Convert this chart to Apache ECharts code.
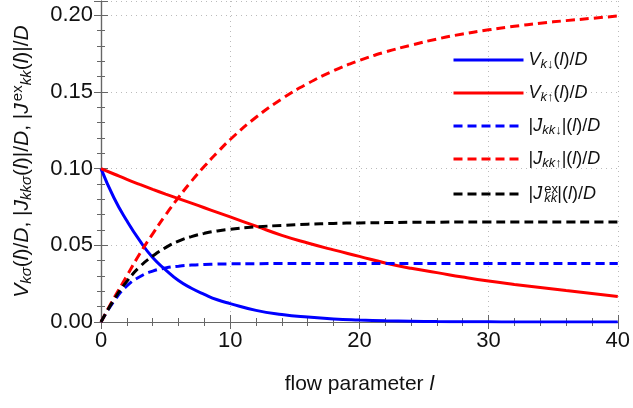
<!DOCTYPE html>
<html>
<head>
<meta charset="utf-8">
<script src="https://cdn.jsdelivr.net/npm/echarts@6/dist/echarts.min.js"></script>
<style>
  html, body { margin: 0; padding: 0; background: #fff; }
  #chart { width: 633px; height: 408px; }
</style>
</head>
<body>
<div id="chart"></div>
<script>
  // flow parameter l
  const flowL = [0, 1, 2, 3, 4, 5, 6, 7, 8, 9, 10, 12, 14, 16, 18, 20, 22, 24, 26, 28, 30, 32, 34, 36, 38, 40]

  const vDown = [0.1, 0.081, 0.066, 0.053, 0.042, 0.034, 0.027, 0.022, 0.018, 0.0145, 0.012, 0.0076, 0.0049, 0.0032,
    0.002, 0.0013, 0.0008, 0.0005, 0.0003, 0.0002, 0.0001, 0.00006, 0.00004, 0.00002, 0.00001, 0]
  const vUp = [0.1, 0.0965, 0.093, 0.0897, 0.0865, 0.0834, 0.0804, 0.0775, 0.0745, 0.0715, 0.0685, 0.0625, 0.0565,
    0.0515, 0.047, 0.0428, 0.0385, 0.035, 0.0322, 0.0293, 0.0267, 0.0245, 0.0225, 0.0205, 0.0186, 0.0167]
  const jDown = [0, 0.0135, 0.0235, 0.0295, 0.0332, 0.0352, 0.0364, 0.0371, 0.0375, 0.0378, 0.0379, 0.038, 0.0381,
    0.0381, 0.0381, 0.0381, 0.0381, 0.0381, 0.0381, 0.0381, 0.0381, 0.0381, 0.0381, 0.0381, 0.0381, 0.0381]
  const jUp = [0, 0.0155, 0.03, 0.0445, 0.0575, 0.0698, 0.0812, 0.0918, 0.1015, 0.1105, 0.119, 0.1335, 0.1455,
    0.1555, 0.1638, 0.1705, 0.176, 0.1805, 0.1845, 0.1878, 0.1905, 0.1928, 0.1948, 0.1965, 0.198, 0.1995]
  const jEx = [0, 0.0145, 0.0265, 0.036, 0.043, 0.0485, 0.0527, 0.0557, 0.0578, 0.0594, 0.0605, 0.062, 0.063,
    0.0638, 0.0643, 0.0646, 0.0648, 0.065, 0.0651, 0.0652, 0.0652, 0.0652, 0.0652, 0.0652, 0.0652, 0.0652]

  const xTicks = [0, 10, 20, 30, 40]
  const yTicks = [0, 0.05, 0.1, 0.15, 0.2]

  const FONT = '"Liberation Sans", Arial, sans-serif'
  const AXIS_COLOR = '#666'
  const TEXT_COLOR = '#111'

  const pairs = (ys) => flowL.map((x, i) => [x, ys[i]])

  // legend labels, rich text
  const legendText = {
    vDown: '{i|V}{s|k}{a|↓}{n|(}{i|l}{n|)/}{i|D}',
    vUp: '{i|V}{s|k}{a|↑}{n|(}{i|l}{n|)/}{i|D}',
    jDown: '{n||}{i|J}{s|kk}{a|↓}{n||(}{i|l}{n|)/}{i|D}',
    jUp: '{n||}{i|J}{s|kk}{a|↑}{n||(}{i|l}{n|)/}{i|D}',
    jEx: '{n||}{i|J}{e|ex}{s|kk}{n||(}{i|l}{n|)/}{i|D}'
  }

  // stacked: superscript drawn over the following subscript (only works unrotated)
  const richStyles = (size, stacked) => {
    const small = Math.round(size * 0.72)
    const sup = {fontFamily: FONT, fontSize: small, color: TEXT_COLOR, padding: [0, 0, 9, 2]}
    if (stacked) {
      sup.width = 0.1
      sup.align = 'left'
    }
    return {
      i: {fontFamily: FONT, fontSize: size, fontStyle: 'italic', color: TEXT_COLOR},
      n: {fontFamily: FONT, fontSize: size, color: TEXT_COLOR},
      s: {fontFamily: FONT, fontSize: small, fontStyle: 'italic', color: TEXT_COLOR, padding: [9, 0, 0, 0]},
      a: {fontFamily: FONT, fontSize: small, color: TEXT_COLOR, padding: [9, 0, 0, 0]},
      e: sup
    }
  }

  function makeSeries(name, ys, color, dashed) {
    return {
      name: name,
      type: 'line',
      smooth: true,
      symbol: 'none',
      data: pairs(ys),
      lineStyle: {color: color, width: 3, type: dashed ? [9, 5] : 'solid'},
      itemStyle: {color: color},
      z: dashed ? 3 : 2
    }
  }

  const chart = echarts.init(document.getElementById('chart'))
  const option = {
    animation: false,
    textStyle: {fontFamily: FONT},
    grid: {left: 101, right: 14, top: 1, bottom: 86, containLabel: false},
    legend: {
      orient: 'vertical',
      left: 447,
      top: 46,
      itemWidth: 70,
      itemHeight: 16,
      itemGap: 13,
      data: ['vDown', 'vUp', 'jDown', 'jUp', 'jEx'],
      formatter: (name) => legendText[name],
      itemStyle: {opacity: 0},
      lineStyle: {width: 3},
      textStyle: {rich: richStyles(18, true)}
    },
    xAxis: [{
      type: 'value',
      min: 0,
      max: 40,
      interval: 10,
      name: '{n|flow parameter }{i|l}',
      nameLocation: 'middle',
      nameGap: 52,
      nameTextStyle: {rich: richStyles(21, false)},
      axisLine: {lineStyle: {color: AXIS_COLOR, width: 1.2}},
      axisTick: {inside: true, length: 7, lineStyle: {color: AXIS_COLOR}},
      minorTick: {show: true, splitNumber: 5, length: 4, lineStyle: {color: AXIS_COLOR}},
      axisLabel: {
        fontFamily: FONT, fontSize: 22, color: TEXT_COLOR, margin: 8,
        formatter: (v) => xTicks.indexOf(v) >= 0 ? String(v) : ''
      },
      splitLine: {show: true, lineStyle: {color: '#bbb', type: [1, 4], width: 1}}
    }, {
      type: 'value',
      position: 'top',
      min: 0,
      max: 40,
      interval: 10,
      axisLine: {show: true, lineStyle: {color: AXIS_COLOR, width: 1.2}},
      axisTick: {inside: true, length: 7, lineStyle: {color: AXIS_COLOR}},
      minorTick: {show: true, splitNumber: 5, length: 4, lineStyle: {color: AXIS_COLOR}},
      axisLabel: {show: false},
      splitLine: {show: false}
    }],
    yAxis: [{
      type: 'value',
      min: 0,
      max: 0.2093,
      interval: 0.05,
      name: '{i|V}{s|kσ}{n|(}{i|l}{n|)/}{i|D}{n|, |}{i|J}{s|kkσ}{n|(}{i|l}{n|)|/}{i|D}{n|, |}{i|J}{e|ex}{s|kk}{n|(}{i|l}{n|)|/}{i|D}',
      nameLocation: 'middle',
      nameRotate: 90,
      nameGap: 67,
      nameTextStyle: {rich: richStyles(21, false)},
      axisLine: {show: true, lineStyle: {color: AXIS_COLOR, width: 1.2}},
      axisTick: {inside: true, length: 7, lineStyle: {color: AXIS_COLOR}},
      minorTick: {show: true, splitNumber: 5, length: 4, lineStyle: {color: AXIS_COLOR}},
      axisLabel: {
        fontFamily: FONT, fontSize: 22, color: TEXT_COLOR, margin: 8, showMaxLabel: false,
        formatter: (v) => yTicks.some(t => Math.abs(t - v) < 1e-9) ? v.toFixed(2) : ''
      },
      splitLine: {show: true, lineStyle: {color: '#bbb', type: [1, 4], width: 1}}
    }, {
      type: 'value',
      position: 'right',
      min: 0,
      max: 0.2093,
      interval: 0.05,
      axisLine: {show: true, lineStyle: {color: AXIS_COLOR, width: 1.2}},
      axisTick: {inside: true, length: 7, lineStyle: {color: AXIS_COLOR}},
      minorTick: {show: true, splitNumber: 5, length: 4, lineStyle: {color: AXIS_COLOR}},
      axisLabel: {show: false},
      splitLine: {show: false}
    }],
    series: [
      makeSeries('vDown', vDown, '#0000ff', false),
      makeSeries('vUp', vUp, '#ff0000', false),
      makeSeries('jDown', jDown, '#0000ff', true),
      makeSeries('jUp', jUp, '#ff0000', true),
      makeSeries('jEx', jEx, '#000000', true)
    ]
  }
  chart.setOption(option)
</script>
</body>
</html>
